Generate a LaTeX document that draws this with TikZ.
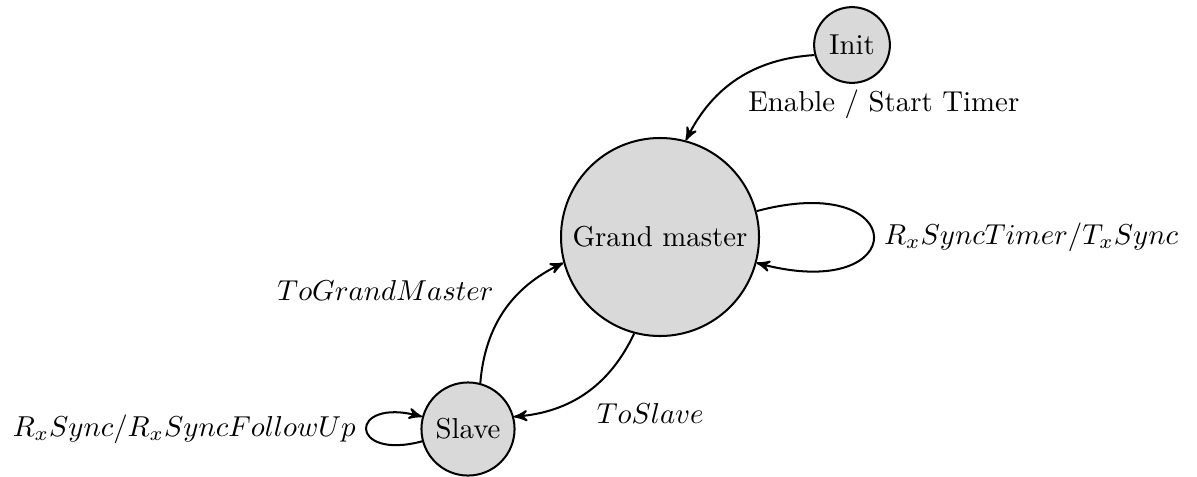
\documentclass[tikz,border=0pt]{standalone}
\usetikzlibrary{arrows}
\begin{document}
\begin{tikzpicture}[
  x=0.3472pt, y=-0.3472pt,
  >=stealth',
  every node/.style={font=\normalsize},
  statenode/.style={circle, draw=black, fill=gray!30, line width=0.7pt, inner sep=3.333pt},
  trans/.style={->, line width=0.7pt},
  lbl/.style={inner sep=3.333pt}
]
% canvas
\useasboundingbox (0,0) rectangle (1197,476);

% states
\node[statenode] (init)  at (852,45)  {Init};
\node[statenode] (gm)    at (660,237) {Grand master};
\node[statenode] (slave) at (468,429) {Slave};

% transitions
\draw[trans] (init) to[bend right]
  node[lbl, pos=0.5, anchor=north west] {Enable / Start Timer} (gm);

\draw[trans] (gm) to[loop right]
  node[lbl, anchor=west] {$R_xSyncTimer/T_xSync$} (gm);

\draw[trans] (slave) to[bend left]
  node[lbl, pos=0.5, anchor=south east] {$ToGrandMaster$} (gm);

\draw[trans] (gm) to[bend left]
  node[lbl, pos=0.5, anchor=north west] {$ToSlave$} (slave);

\draw[trans] (slave) to[loop left]
  node[lbl, anchor=east] {$R_xSync/R_xSyncFollowUp$} (slave);
\end{tikzpicture}
\end{document}
